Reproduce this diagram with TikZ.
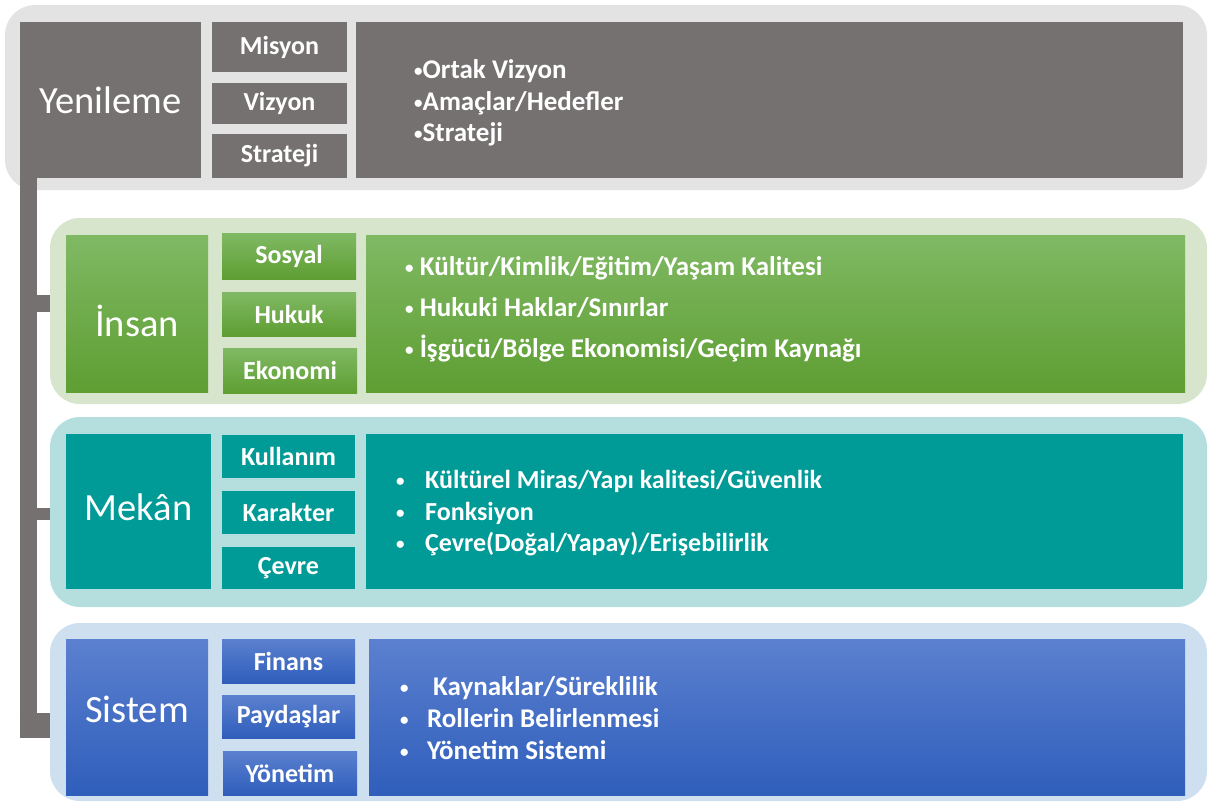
\documentclass[tikz,border=0pt]{standalone}
\usepackage{fontspec}
\setmainfont{Carlito}
\usetikzlibrary{positioning}

\definecolor{grayband}{HTML}{E3E3E3}
\definecolor{graybox}{HTML}{767171}
\definecolor{greenband}{HTML}{D6E5CB}
\definecolor{greentop}{HTML}{80B964}
\definecolor{greenbot}{HTML}{5E9E32}
\definecolor{tealband}{HTML}{B5DFDF}
\definecolor{tealbox}{HTML}{009A97}
\definecolor{blueband}{HTML}{CEDFF0}
\definecolor{bluetop}{HTML}{5B80CF}
\definecolor{bluebot}{HTML}{2F5EBB}

\newcommand{\bul}{{\fontsize{17}{17}\selectfont\raisebox{2pt}{•}}}

\tikzset{
  band/.style = {rectangle, rounded corners = 30pt, inner sep = 0pt, outer sep = 0pt, anchor = north west},
  cell/.style = {rectangle, inner sep = 0pt, outer sep = 0pt, anchor = north west, text = white},
  head/.style = {cell, font = \fontsize{38.5}{38.5}\selectfont},
  tag/.style = {cell, font = \fontsize{26}{26}\selectfont\bfseries},
  list/.style = {align = left, text = white, inner sep = 0pt},
  grey/.style = {fill = graybox},
  green/.style = {top color = greentop, bottom color = greenbot},
  teal/.style = {fill = tealbox},
  blue/.style = {top color = bluetop, bottom color = bluebot},
  spine/.style = {draw = graybox, line width = 17pt}
}

\begin{document}
\begin{tikzpicture}[x = 1pt, y = -1pt]
  \useasboundingbox (0, 0) rectangle (1218, 801);

  \node [band, fill = grayband, minimum width = 1202pt, minimum height = 185pt] (yenband) at (5, 5) {};
  \node [band, fill = greenband, minimum width = 1157pt, minimum height = 186pt] (insband) at (50, 218) {};
  \node [band, fill = tealband, minimum width = 1157pt, minimum height = 190pt] (mekband) at (50, 417) {};
  \node [band, fill = blueband, minimum width = 1157pt, minimum height = 178pt] (sisband) at (50, 623) {};

  \node [head, grey, minimum width = 181pt, minimum height = 156pt] (yen) at (20, 22) {Yenileme};
  \node [tag, grey, minimum width = 135pt, minimum height = 50pt] (mis) at (212, 22) {Misyon};
  \node [tag, grey, minimum width = 135pt, minimum height = 41pt] (viz) at (212, 83) {Vizyon};
  \node [tag, grey, minimum width = 135pt, minimum height = 44pt] (str) at (212, 134) {Strateji};
  \node [cell, grey, minimum width = 827pt, minimum height = 156pt] (yenbox) at (356, 22) {};
  \node [list, right = 58pt of yenbox.west, yshift = -3pt, font = \fontsize{27}{31.5}\selectfont\bfseries] (yentext)
    {\bul Ortak Vizyon\\\bul Amaçlar/Hedefler\\\bul Strateji};

  \node [head, green, minimum width = 142pt, minimum height = 157pt, text height = 45pt, text depth = 0pt] (ins) at (66, 235) {İnsan};
  \node [tag, green, minimum width = 134pt, minimum height = 46pt] (sos) at (222, 233) {Sosyal};
  \node [tag, green, minimum width = 134pt, minimum height = 44pt] (huk) at (222, 292) {Hukuk};
  \node [tag, green, minimum width = 134pt, minimum height = 45pt] (eko) at (223, 348) {Ekonomi};
  \node [cell, green, minimum width = 819pt, minimum height = 157pt] (insbox) at (366, 235) {};
  \node [list, right = 39pt of insbox.west, yshift = 4pt, font = \fontsize{27}{41}\selectfont\bfseries] (instext)
    {\bul{} Kültür/Kimlik/Eğitim/Yaşam Kalitesi\\\bul{} Hukuki Haklar/Sınırlar\\\bul{} İşgücü/Bölge Ekonomisi/Geçim Kaynağı};

  \node [head, teal, minimum width = 145pt, minimum height = 155pt, text height = 29pt, text depth = 12pt] (mek) at (66, 434) {Mekân};
  \node [tag, teal, minimum width = 133pt, minimum height = 43pt] (kul) at (222, 435) {Kullanım};
  \node [tag, teal, minimum width = 133pt, minimum height = 43pt] (kar) at (222, 491) {Karakter};
  \node [tag, teal, minimum width = 133pt, minimum height = 42pt] (cev) at (222, 547) {Çevre};
  \node [cell, teal, minimum width = 817pt, minimum height = 155pt] (mekbox) at (366, 434) {};
  \node [list, right = 30pt of mekbox.west, yshift = -2pt, font = \fontsize{26}{31.5}\selectfont\bfseries] (mektext)
    {\makebox[29pt][l]{\bul}Kültürel Miras/Yapı kalitesi/Güvenlik\\
     \makebox[29pt][l]{\bul}Fonksiyon\\
     \makebox[29pt][l]{\bul}Çevre(Doğal/Yapay)/Erişebilirlik};

  \node [head, blue, minimum width = 142pt, minimum height = 156pt, text height = 25pt, text depth = 15pt] (sis) at (66, 639) {Sistem};
  \node [tag, blue, minimum width = 133pt, minimum height = 44pt] (fin) at (222, 639) {Finans};
  \node [tag, blue, minimum width = 133pt, minimum height = 43pt] (pay) at (222, 695) {Paydaşlar};
  \node [tag, blue, minimum width = 134pt, minimum height = 44pt] (yon) at (223, 751) {Yönetim};
  \node [cell, blue, minimum width = 816pt, minimum height = 156pt] (sisbox) at (369, 639) {};
  \node [list, right = 31pt of sisbox.west, yshift = -1pt, font = \fontsize{27}{32}\selectfont\bfseries] (sistext)
    {\makebox[33pt][l]{\bul}Kaynaklar/Süreklilik\\
     \makebox[27pt][l]{\bul}Rollerin Belirlenmesi\\
     \makebox[27pt][l]{\bul}Yönetim Sistemi};

  \coordinate (spinetop) at ([xshift = 8pt]yen.south west);
  \coordinate (instee) at ([yshift = 8pt]insband.west);
  \coordinate (mektee) at ([yshift = -2pt]mekband.west);
  \coordinate (sisfoot) at ([yshift = -13.5pt]sisband.west);
  \path (spinetop |- sisfoot) coordinate (footmid);
  \draw [spine] (spinetop) -- (footmid);
  \draw [spine] (spinetop |- instee) -- (instee);
  \draw [spine, line width = 12pt] (spinetop |- mektee) -- (mektee);
  \draw [spine, line width = 25pt] ([xshift = -8.5pt]footmid) -- (sisfoot);
\end{tikzpicture}
\end{document}
